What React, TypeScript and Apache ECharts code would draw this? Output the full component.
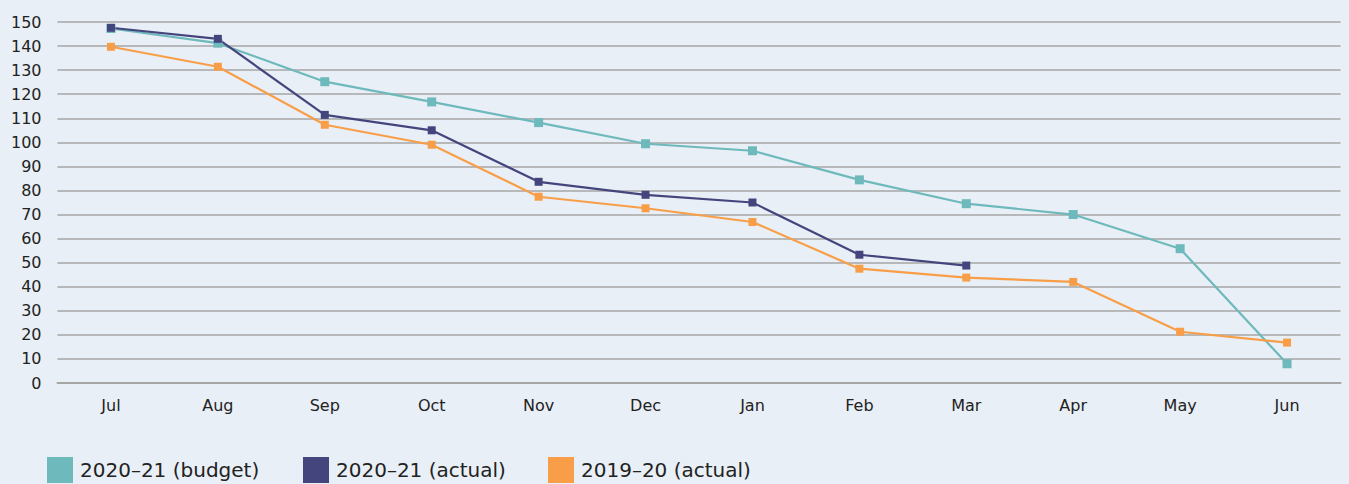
import React, { useEffect, useRef } from "react";
import * as echarts from "echarts";

const categories = ["Jul", "Aug", "Sep", "Oct", "Nov", "Dec", "Jan", "Feb", "Mar", "Apr", "May", "Jun"];
const budget2021 = [147.3, 141.2, 125.2, 116.8, 108.2, 99.4, 96.5, 84.4, 74.5, 70, 55.8, 8];
const actual2021 = [147.6, 143, 111.4, 105, 83.6, 78.2, 75, 53.3, 48.8];
const actual1920 = [139.7, 131.4, 107.3, 99, 77.4, 72.6, 66.9, 47.5, 43.8, 42, 21.3, 16.8];
const seriesNames = ["2020–21 (budget)", "2020–21 (actual)", "2019–20 (actual)"];
const yTicks = { min: 0, max: 150, interval: 10 };

const FONT = "DejaVu Sans";

export default function App() {
  const ref = useRef<HTMLDivElement>(null);
  useEffect(() => {
    const chart = echarts.init(ref.current!, null, { renderer: "svg" });
    const mk = (name: string, data: number[], color: string, size: number) => ({
      name,
      type: "line",
      data,
      symbol: "rect",
      symbolSize: size,
      showSymbol: true,
      lineStyle: { color, width: 2.2 },
      itemStyle: { color },
      emphasis: { disabled: true },
    });
    const legendLefts = [47, 303, 548];
    chart.setOption({
      animation: false,
      backgroundColor: "#e9eff6",
      textStyle: { fontFamily: FONT },
      grid: { left: 57.5, right: 8.5, top: 22, bottom: 101, containLabel: false },
      xAxis: {
        type: "category",
        data: categories,
        boundaryGap: true,
        axisLine: { show: true, lineStyle: { color: "#a6a6a6", width: 2 } },
        axisTick: { show: false },
        axisLabel: { color: "#222", fontSize: 16, margin: 14, fontFamily: FONT },
      },
      yAxis: {
        type: "value",
        min: yTicks.min,
        max: yTicks.max,
        interval: yTicks.interval,
        axisLine: { show: false },
        axisTick: { show: false },
        axisLabel: { color: "#222", fontSize: 16, margin: 16, fontFamily: FONT },
        splitLine: { lineStyle: { color: "#a6a6a6", width: 1.5 } },
      },
      legend: seriesNames.map((n, i) => ({
        left: legendLefts[i],
        top: 457,
        padding: 0,
        itemWidth: 26,
        itemHeight: 26,
        itemGap: 8,
        icon: "rect",
        textStyle: { color: "#222", fontSize: 20, lineHeight: 22, fontFamily: FONT, padding: [2, 0, 0, 2] },
        data: [n],
      })),
      series: [
        mk(seriesNames[0], budget2021, "#6db9bc", 9),
        mk(seriesNames[2], actual1920, "#f89e48", 8),
        mk(seriesNames[1], actual2021, "#45457e", 8),
      ],
    });
    return () => chart.dispose();
  }, []);
  return (
    <div
      ref={ref}
      style={{ position: "absolute", left: 0, top: 0, width: 1349, height: 484 }}
    />
  );
}
